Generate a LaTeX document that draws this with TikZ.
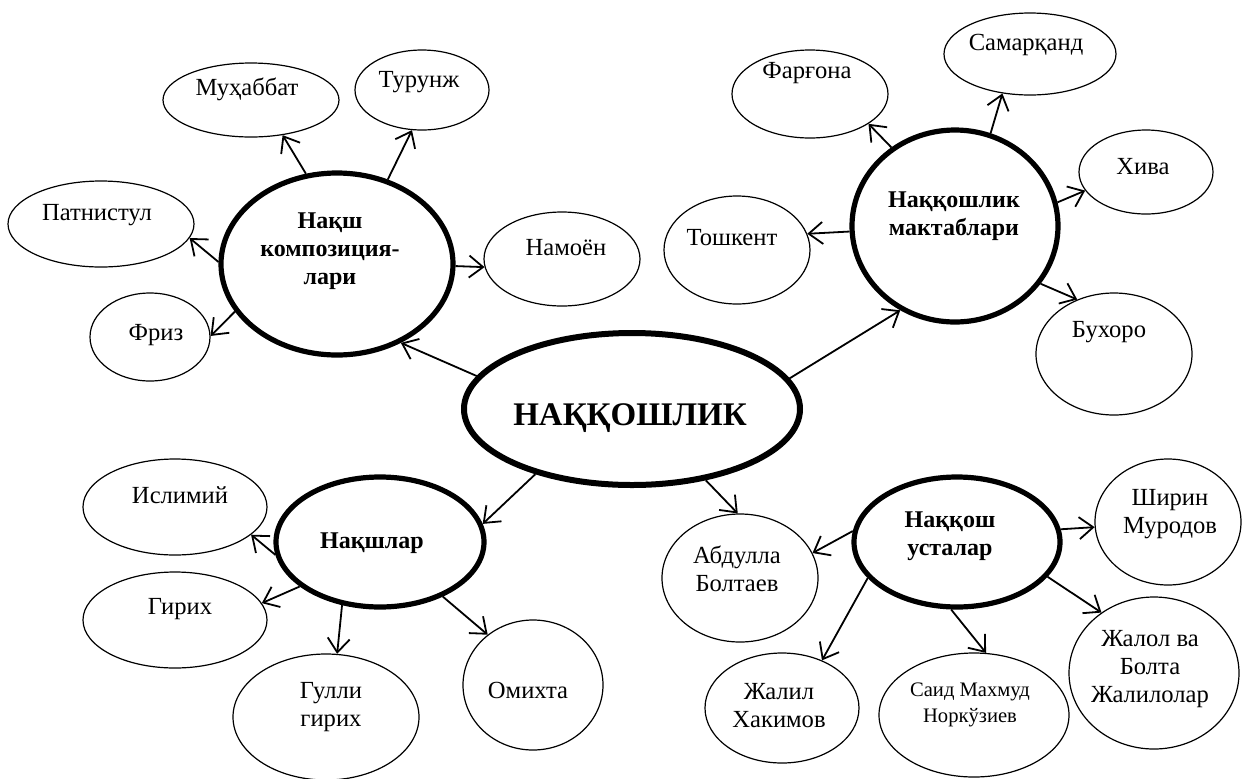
\documentclass[tikz,border=0pt]{standalone}
\usepackage{fontspec}
\setmainfont{Liberation Serif}
\usetikzlibrary{arrows.meta,shapes.geometric}
\begin{document}
\begin{tikzpicture}[x=0.5pt,y=-0.5pt,
 leaf/.style={draw, ellipse, line width=0.6pt, inner sep=0pt},
 hub/.style={draw, ellipse, line width=2.6pt, inner sep=0pt},
 core/.style={draw, ellipse, line width=3pt, inner sep=0pt},
 lt/.style={font=\fontsize{12.3}{14}\selectfont, align=center, inner sep=0pt},
 st/.style={font=\fontsize{10.3}{13}\selectfont, align=center, inner sep=0pt},
 ht/.style={font=\fontsize{12}{14}\selectfont\bfseries, align=center, inner sep=0pt},
 ct/.style={font=\fontsize{16.5}{18}\selectfont\bfseries, inner sep=0pt},
 arr/.style={-{Straight Barb[length=7pt,width=11pt,line width=0.9pt]}, line width=0.9pt}]
\useasboundingbox (0,0) rectangle (1243,778);

% hubs
\node[core, minimum width=168pt, minimum height=76pt] (C) at (632,409) {};
\node[hub, minimum width=116pt, minimum height=91pt] (N) at (337,264) {};
\node[hub, minimum width=103pt, minimum height=96pt] (M) at (955,226) {};
\node[hub, minimum width=104pt, minimum height=65pt] (L) at (380,542) {};
\node[hub, minimum width=103pt, minimum height=65pt] (U) at (957,542) {};

\node[ct] (Ct) at (630,418) {НАҚҚОШЛИК};
\node[ht] (Nt) at (330,251) {Нақш\\композиция-\\лари};
\node[ht] (Mt) at (954,216) {Наққошлик\\мактаблари};
\node[ht] (Lt) at (372,543) {Нақшлар};
\node[ht] (Ut) at (950,536) {Наққош\\усталар};

% leaves
\node[leaf, minimum width=88pt, minimum height=37pt] (muh) at (251,100) {};
\node[leaf, minimum width=67pt, minimum height=40pt] (tur) at (422,90) {};
\node[leaf, minimum width=93pt, minimum height=43pt] (pat) at (101,224) {};
\node[leaf, minimum width=78pt, minimum height=47pt] (nam) at (562,259) {};
\node[leaf, minimum width=60pt, minimum height=44pt] (fri) at (150,337) {};
\node[leaf, minimum width=78pt, minimum height=44pt] (far) at (810,94) {};
\node[leaf, minimum width=86pt, minimum height=41pt] (sam) at (1030,54) {};
\node[leaf, minimum width=67pt, minimum height=42pt] (xiv) at (1146,172) {};
\node[leaf, minimum width=73pt, minimum height=54pt] (tos) at (737,250) {};
\node[leaf, minimum width=78pt, minimum height=61pt] (bux) at (1114,354) {};
\node[leaf, minimum width=92pt, minimum height=48pt] (isl) at (175,507) {};
\node[leaf, minimum width=92pt, minimum height=48pt] (gir) at (175,620) {};
\node[leaf, minimum width=93pt, minimum height=63pt] (gul) at (326,717) {};
\node[leaf, minimum width=70pt, minimum height=65pt] (omi) at (533,685) {};
\node[leaf, minimum width=78pt, minimum height=64pt] (abd) at (740,578) {};
\node[leaf, minimum width=73pt, minimum height=63pt] (shi) at (1168,522) {};
\node[leaf, minimum width=85pt, minimum height=76pt] (jal) at (1154,673) {};
\node[leaf, minimum width=77pt, minimum height=55pt] (jah) at (782,708) {};
\node[leaf, minimum width=95pt, minimum height=62pt] (sai) at (974,715) {};

\node[lt] (muht) at (247,89) {Муҳаббат};
\node[lt] (turt) at (419,82) {Турунж};
\node[lt] (patt) at (97,215) {Патнистул};
\node[lt] (namt) at (566,248) {Намоён};
\node[lt] (frit) at (156,335) {Фриз};
\node[lt] (fart) at (807,73) {Фарғона};
\node[lt] (samt) at (1026,45) {Самарқанд};
\node[lt] (xivt) at (1143,167) {Хива};
\node[lt] (tost) at (732,238) {Тошкент};
\node[lt] (buxt) at (1109,332) {Бухоро};
\node[lt] (islt) at (180,495) {Ислимий};
\node[lt] (girt) at (180,609) {Гирих};
\node[lt] (gult) at (331,707) {Гулли\\гирих};
\node[lt] (omit) at (528,690) {Омихта};
\node[lt] (abdt) at (737,569) {Абдулла\\Болтаев};
\node[lt] (shit) at (1170,514) {Ширин\\Муродов};
\node[lt] (jalt) at (1150,669) {Жалол ва\\Болта\\Жалилолар};
\node[lt] (jaht) at (779,706) {Жалил\\Хакимов};
\node[st] (sait) at (970,705) {Саид Махмуд\\Норкўзиев};

% connectors
\draw[arr] (N.109.9) -- (muh.312);
\draw[arr] (N.59.2) -- (tur.256);
\draw[arr] (N.179.5) -- (pat.351);
\draw[arr] (N.-1.5) -- (nam.186);
\draw[arr] (N.205.6) -- (fri.1);
\draw[arr] (C.168.5) -- (N.309.2);
\draw[arr] (M.129.4) -- (far.333);
\draw[arr] (M.69.9) -- (sam.235);
\draw[arr] (M.13.8) -- (xiv.197);
\draw[arr] (M.183.9) -- (tos.13.5);
\draw[arr] (M.326.6) -- (bux.124);
\draw[arr] (C.11.2) -- (M.237);
\draw[arr] (C.214.8) -- (L.10);
\draw[arr] (L.187.2) -- (isl.340);
\draw[arr] (L.209.9) -- (gir.11);
\draw[arr] (L.239.5) -- (gul.80);
\draw[arr] (L.319.7) -- (omi.132);
\draw[arr] (C.316.1) -- (abd.92);
\draw[arr] (U.174.2) -- (abd.19);
\draw[arr] (U.7.7) -- (shi.184.5);
\draw[arr] (U.202.2) -- (jah.50);
\draw[arr] (U.265.8) -- (sai.79);
\draw[arr] (U.339.6) -- (jal.131.5);
\end{tikzpicture}
\end{document}
